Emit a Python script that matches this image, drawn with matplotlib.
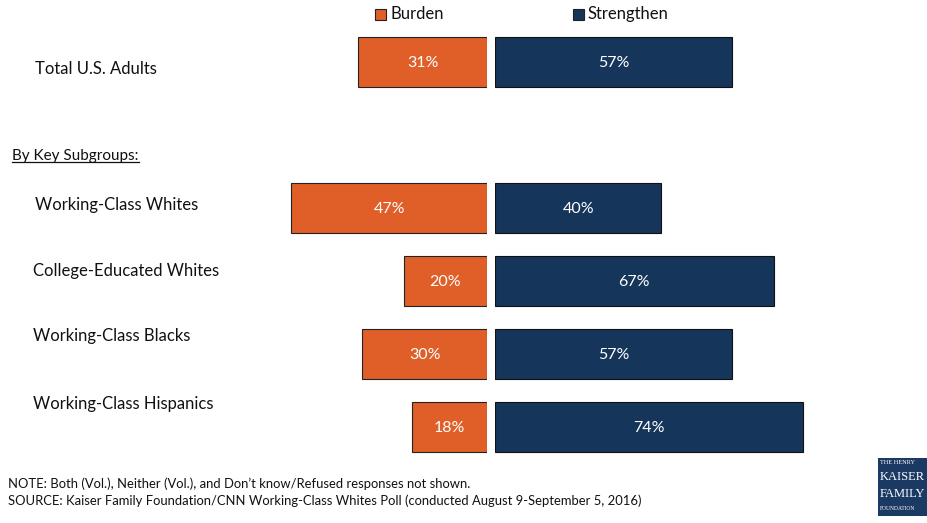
import matplotlib.pyplot as plt
from matplotlib.patches import Rectangle
from matplotlib.lines import Line2D

plt.rcParams['font.family'] = ['Lato', 'DejaVu Sans']

# Share of each group saying immigrants are a burden / strengthen the country
groups = ['Total U.S. Adults', 'Working-Class Whites', 'College-Educated Whites',
          'Working-Class Blacks', 'Working-Class Hispanics']
burden = [31, 47, 20, 30, 18]
strengthen = [57, 40, 67, 57, 74]
ypos = [0, 2, 3, 4, 5]

ORANGE = '#E05F28'
NAVY = '#16355A'

fig = plt.figure(figsize=(9.28, 5.23), dpi=100)
W, H = 928, 523

def fx(px):
    return px / W

def fy(py):
    return 1 - py / H

# y-axis: position 0 centred at pixel 62, 73 px per slot
bottom = fy(62 + 73 * 5.5)
height = 73 * 6 / H
pxpct = 4.16

ax_l = fig.add_axes([fx(487 - 50 * pxpct), bottom, 50 * pxpct / W, height])
ax_r = fig.add_axes([fx(495), bottom, 80 * pxpct / W, height])

for ax in (ax_l, ax_r):
    ax.set_ylim(5.5, -0.5)
    ax.axis('off')
ax_l.set_xlim(50, 0)
ax_r.set_xlim(0, 80)

ax_l.barh(ypos, burden, height=0.69, color=ORANGE, edgecolor='#222222', linewidth=0.8)
ax_r.barh(ypos, strengthen, height=0.69, color=NAVY, edgecolor='#111111', linewidth=0.8)

for y, b, s in zip(ypos, burden, strengthen):
    ax_l.text(b / 2, y + 0.02, f'{b}%', color='white', ha='center', va='center', fontsize=11.5)
    ax_r.text(s / 2, y + 0.02, f'{s}%', color='white', ha='center', va='center', fontsize=11.5)

# category labels on the left
label_px = [(35, 69), (35, 205), (33, 271), (33, 336), (33, 404)]
for name, (x, y) in zip(groups, label_px):
    fig.text(fx(x), fy(y), name, ha='left', va='center', fontsize=12, color='#111111')

# section heading, underlined
head = fig.text(fx(12), fy(156), 'By Key Subgroups:', ha='left', va='center',
                fontsize=11, color='#111111')
fig.canvas.draw()
bb = head.get_window_extent().transformed(fig.transFigure.inverted())
fig.add_artist(Line2D([bb.x0, bb.x1], [bb.y0 + 0.002, bb.y0 + 0.002],
                      transform=fig.transFigure, color='#111111', linewidth=0.9))

# legend
for sx, label, col in [(375, 'Burden', ORANGE), (573, 'Strengthen', NAVY)]:
    fig.add_artist(Rectangle((fx(sx), fy(20)), 11 / W, 11 / H, transform=fig.transFigure,
                             facecolor=col, edgecolor='#222222', linewidth=0.8))
    fig.text(fx(sx + 15), fy(14), label, ha='left', va='center', fontsize=12, color='#111111')

# notes
fig.text(fx(8), fy(484), 'NOTE: Both (Vol.), Neither (Vol.), and Don\u2019t know/Refused responses not shown.',
         ha='left', va='center', fontsize=9.4, color='#111111')
fig.text(fx(8), fy(501), 'SOURCE: Kaiser Family Foundation/CNN Working-Class Whites Poll '
         '(conducted August 9-September 5, 2016)',
         ha='left', va='center', fontsize=9.4, color='#111111')

# foundation logo
fig.add_artist(Rectangle((fx(878), fy(516)), 60 / W, 58 / H, transform=fig.transFigure,
                         facecolor='#1B3A63', edgecolor='none'))
logo = [(462, 'THE HENRY', 4.5), (477, 'KAISER', 9), (494, 'FAMILY', 9), (509, 'FOUNDATION', 4)]
for y, t, fs in logo:
    fig.text(fx(880), fy(y), t, ha='left', va='center', fontsize=fs, color='white',
             family='Liberation Serif')

fig.savefig('out.png', dpi=100)
